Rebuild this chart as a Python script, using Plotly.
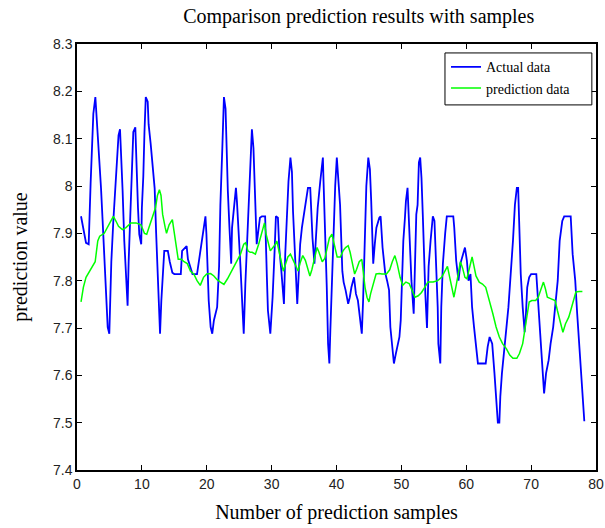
import plotly.graph_objects as go

# Actual data (blue)
actual_x = [0.62,0.98,1.39,1.8,1.9,2.1,2.31,2.52,2.83,3.0,3.2,3.44,3.7,3.95,4.2,4.47,4.73,4.98,5.08,5.29,5.6,5.9,6.1,6.4,6.63,6.78,6.93,7.03,7.29,7.55,7.8,7.96,8.2,8.47,8.68,8.99,9.1,9.25,9.4,9.6,9.9,10.0,10.22,10.4,10.6,10.9,11.04,11.35,11.66,11.97,12.2,12.4,12.6,12.8,13.0,13.2,13.45,
            13.66,14.0,14.3,14.7,15.0,16.0,16.2,16.6,16.9,17.1,17.4,17.8,18.5,19.0,19.3,19.6,19.8,19.95,20.1,20.3,20.6,20.85,21.1,21.35,21.6,21.9,22.1,22.4,22.65,22.9,23.05,23.25,23.5,23.77,23.9,24.2,24.5,24.65,24.85,25.2,25.5,25.7,25.95,26.2,26.45,26.6,26.8,26.96,
            27.2,27.35,27.58,27.7,27.9,28.2,28.5,29.0,29.27,29.43,29.8,29.95,30.15,30.46,30.66,30.97,31.17,31.5,31.7,31.9,32.1,32.35,32.6,32.9,33.13,33.3,33.5,33.75,33.95,34.15,34.4,34.67,34.9,35.2,35.6,35.95,36.1,36.3,36.6,36.8,37.1,37.5,37.9,38.0,38.3,38.5,38.7,38.9,39.05,39.3,39.6,39.8,40.05,40.3,40.55,
            40.9,41.1,41.4,41.8,42.05,42.3,42.7,43.0,43.3,43.5,43.9,44.1,44.4,44.6,44.9,45.15,45.35,45.5,45.66,45.9,46.15,46.6,46.8,47.1,47.5,47.8,48.1,48.3,48.6,48.85,49.15,49.4,49.7,49.9,50.1,50.3,50.55,50.7,50.95,51.1,51.3,51.55,51.9,52.1,52.3,52.5,52.7,52.9,53.1,53.3,53.5,53.7,53.95,
            54.2,54.5,54.85,55.1,55.4,55.6,55.7,56.0,56.15,56.4,56.75,57.0,58.0,58.15,58.45,58.8,59.1,59.45,59.8,60.1,60.35,60.65,60.9,61.2,61.5,61.8,63.0,63.3,63.6,64.0,64.35,64.6,64.87,65.1,65.25,65.5,65.8,66.2,66.5,66.9,67.2,67.5,67.8,
            68.0,68.2,68.4,68.7,69.0,69.2,69.4,69.7,70.0,70.8,71.0,71.3,71.7,72.0,72.3,72.7,73.0,73.4,73.7,74.1,74.4,74.8,75.1,76.1,76.4,76.8,77.1,77.5,77.9,78.2]
actual_y = [7.936,7.912,7.88,7.877,7.933,8.006,8.08,8.153,8.188,8.153,8.104,8.05,7.996,7.926,7.85,7.776,7.702,7.688,7.758,7.84,7.926,8.0,8.04,8.107,8.12,8.08,8.045,7.99,7.884,7.8,7.747,7.84,7.926,8.01,8.114,8.124,8.07,8.01,7.954,7.898,7.877,7.954,8.02,8.114,8.188,8.178,8.13,8.09,8.045,7.995,7.9,7.83,7.74,7.688,7.758,7.81,7.863,
            7.863,7.863,7.84,7.817,7.814,7.814,7.863,7.87,7.873,7.845,7.83,7.814,7.814,7.863,7.884,7.912,7.936,7.898,7.836,7.758,7.702,7.688,7.716,7.73,7.744,7.83,7.96,8.08,8.188,8.163,8.083,7.99,7.912,7.836,7.912,7.954,7.996,7.968,7.905,7.83,7.744,7.688,7.793,7.877,7.926,7.996,8.08,8.12,
            8.08,8.01,7.94,7.877,7.9,7.933,7.936,7.936,7.807,7.737,7.688,7.716,7.765,7.863,7.936,7.933,7.87,7.82,7.786,7.751,7.856,7.933,8.01,8.06,8.03,7.946,7.884,7.8,7.751,7.807,7.877,7.912,7.933,7.96,7.996,7.996,7.946,7.89,7.836,7.884,7.954,8.01,8.06,8.01,7.9,7.786,7.667,7.625,7.695,7.814,7.926,8.0,8.06,8.017,7.96,
            7.82,7.797,7.78,7.751,7.765,7.786,7.807,7.772,7.758,7.73,7.688,7.758,7.912,8.0,8.06,8.035,7.968,7.898,7.836,7.877,7.912,7.933,7.936,7.87,7.817,7.8,7.78,7.702,7.653,7.625,7.646,7.66,7.681,7.716,7.8,7.884,7.933,7.968,7.996,7.947,7.85,7.8,7.73,7.842,7.94,7.96,8.05,8.06,8.017,7.94,7.836,7.77,7.7,
            7.83,7.884,7.936,7.926,7.836,7.744,7.667,7.625,7.744,7.836,7.9,7.936,7.936,7.912,7.842,7.8,7.836,7.856,7.87,7.842,7.8,7.814,7.744,7.702,7.66,7.625,7.625,7.66,7.681,7.667,7.604,7.548,7.5,7.5,7.555,7.604,7.653,7.702,7.744,7.814,7.884,7.96,7.996,
            7.996,7.898,7.814,7.744,7.691,7.73,7.786,7.807,7.814,7.814,7.772,7.688,7.625,7.562,7.604,7.632,7.667,7.702,7.744,7.8,7.884,7.926,7.936,7.936,7.856,7.8,7.73,7.639,7.569,7.503]

# Prediction data (green)
pred_x = [0.62,0.98,1.39,1.8,2.4,2.8,3.2,3.5,4.2,5.0,5.6,6.0,6.4,7.0,7.55,8.3,9.1,9.85,10.4,10.75,11.1,11.66,12.1,12.4,12.7,12.95,13.2,13.6,13.8,14.2,14.7,14.95,15.2,15.6,16.1,16.5,17.0,17.5,18.0,18.5,19.0,19.5,20.0,20.6,21.1,21.6,22.1,22.65,23.2,23.7,24.2,24.7,25.2,25.7,26.0,26.35,26.7,27.0,27.5,28.0,28.5,28.9,29.15,29.5,29.8,30.2,30.6,30.8,31.2,31.5,31.8,32.1,32.5,32.9,33.25,33.6,34.1,34.4,34.8,35.2,35.6,35.9,36.2,36.6,37.0,37.3,37.8,38.2,38.5,38.9,39.3,39.7,40.1,40.6,41.0,41.4,41.8,42.1,42.5,42.8,43.1,43.5,43.9,44.15,44.4,44.7,45.0,45.25,45.6,46.1,46.6,47.0,47.7,48.2,48.6,49.0,49.35,49.8,50.2,50.7,51.2,51.6,52.1,52.6,53.1,53.6,54.1,54.9,55.6,56.2,56.75,57.1,57.45,57.8,58.1,58.45,58.8,59.1,59.45,59.8,60.1,60.5,60.9,61.2,61.5,62.0,62.5,63.0,63.6,64.1,64.6,65.1,65.6,66.2,66.7,67.2,67.8,68.2,68.7,69.2,69.7,70.1,70.7,71.1,71.5,71.9,72.2,72.5,73.0,73.7,74.05,74.4,74.9,75.3,75.8,76.1,76.5,76.9,77.4,77.9]
pred_y = [7.755,7.786,7.807,7.817,7.83,7.84,7.884,7.894,7.9,7.922,7.936,7.926,7.915,7.908,7.912,7.922,7.922,7.918,7.9,7.898,7.912,7.933,7.954,7.98,7.992,7.98,7.94,7.912,7.9,7.918,7.929,7.905,7.884,7.845,7.845,7.84,7.836,7.82,7.814,7.8,7.79,7.807,7.814,7.815,7.81,7.802,7.797,7.792,7.804,7.817,7.828,7.84,7.856,7.877,7.88,7.863,7.86,7.86,7.856,7.877,7.905,7.922,7.898,7.877,7.863,7.87,7.877,7.884,7.856,7.84,7.82,7.833,7.85,7.856,7.845,7.836,7.82,7.838,7.853,7.843,7.823,7.81,7.823,7.85,7.87,7.86,7.84,7.847,7.866,7.89,7.898,7.87,7.85,7.85,7.863,7.87,7.874,7.86,7.833,7.814,7.824,7.84,7.845,7.814,7.786,7.765,7.755,7.772,7.79,7.814,7.815,7.814,7.814,7.823,7.84,7.853,7.836,7.807,7.79,7.797,7.794,7.78,7.765,7.768,7.775,7.786,7.797,7.797,7.8,7.807,7.82,7.83,7.807,7.78,7.765,7.79,7.817,7.84,7.826,7.807,7.804,7.83,7.85,7.83,7.81,7.797,7.793,7.786,7.758,7.73,7.702,7.681,7.667,7.656,7.643,7.636,7.636,7.646,7.667,7.709,7.755,7.758,7.758,7.765,7.78,7.797,7.783,7.765,7.762,7.758,7.737,7.716,7.691,7.709,7.723,7.737,7.758,7.776,7.777,7.777]

x_ticks = [0, 10, 20, 30, 40, 50, 60, 70, 80]
y_ticks = [7.4, 7.5, 7.6, 7.7, 7.8, 7.9, 8.0, 8.1, 8.2, 8.3]
y_tick_text = ["7.4", "7.5", "7.6", "7.7", "7.8", "7.9", "8", "8.1", "8.2", "8.3"]

serif = "Liberation Serif, Times New Roman, serif"
sans = "Liberation Sans, Arial, sans-serif"

fig = go.Figure()
fig.add_trace(go.Scatter(x=actual_x, y=actual_y, mode="lines", name="Actual data",
                         line=dict(color="#0000ff", width=1.8)))
fig.add_trace(go.Scatter(x=pred_x, y=pred_y, mode="lines", name="prediction data",
                         line=dict(color="#00ff00", width=1.5)))

axis_common = dict(showgrid=False, zeroline=False, showline=True, linecolor="black",
                   linewidth=1.5, mirror="ticks", ticks="inside", ticklen=5,
                   tickcolor="black", tickwidth=1, automargin=False,
                   tickfont=dict(family=sans, size=14, color="#222222"))

# legend frame (drawn as a box behind the legend entries)
fig.add_shape(type="rect", xref="paper", yref="paper",
              x0=0.709, x1=0.992, y0=0.857, y1=0.979,
              line=dict(color="black", width=1), fillcolor="white", layer="above")

fig.update_layout(
    width=605, height=528,
    margin=dict(l=77, r=9, t=44, b=58),
    paper_bgcolor="white", plot_bgcolor="white",
    title=dict(text="Comparison prediction results with samples",
               font=dict(family=serif, size=20, color="black"),
               x=0.593, xanchor="center", y=0.97, yanchor="middle"),
    xaxis=dict(range=[0, 80], tickvals=x_ticks, **axis_common,
               title=dict(text="Number of prediction samples",
                          font=dict(family=serif, size=20, color="black"), standoff=14)),
    yaxis=dict(range=[7.4, 8.3], tickvals=y_ticks, ticktext=y_tick_text, **axis_common,
               title=dict(text="prediction value",
                          font=dict(family=serif, size=20, color="black"), standoff=20)),
    legend=dict(x=0.711, y=0.983, xanchor="left", yanchor="top",
                borderwidth=0, bgcolor="rgba(0,0,0,0)",
                font=dict(family=serif, size=14, color="black"),
                tracegroupgap=0, itemwidth=30),
    showlegend=True,
)

# remove the browser's default 8px page margin so the figure fills the window
fig.write_html("out.html",
               config={"displayModeBar": False},
               post_script="document.body.style.margin='0px';"
                           "document.documentElement.style.overflow='hidden';")
